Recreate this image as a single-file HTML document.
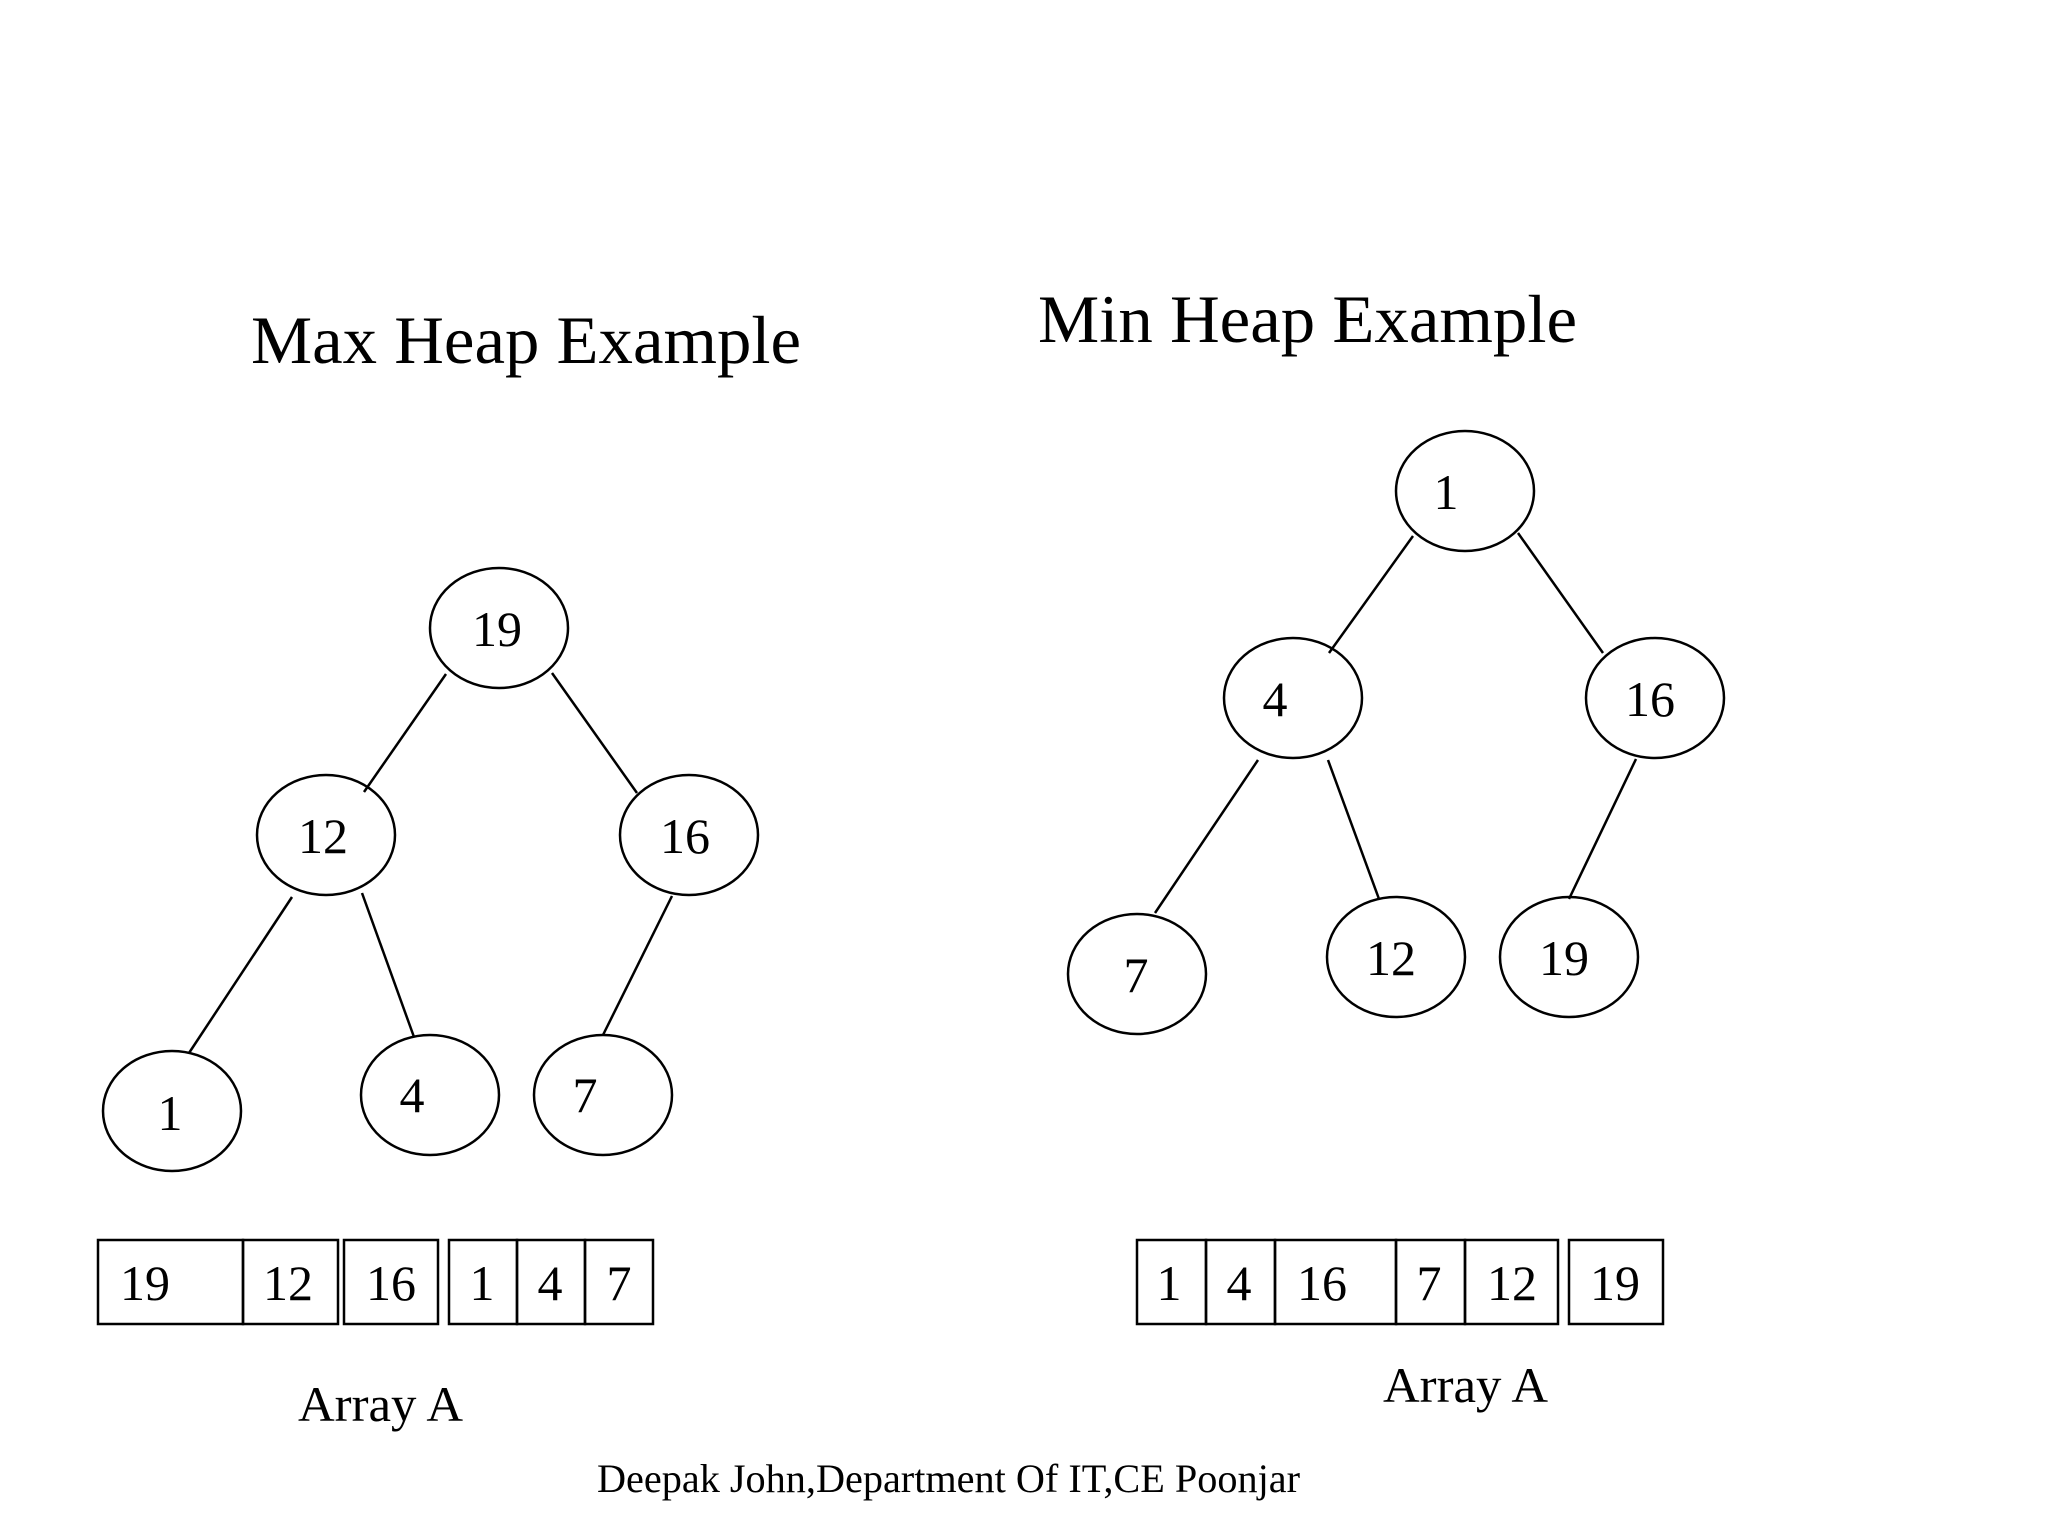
<!DOCTYPE html>
<html><head><meta charset="utf-8"><style>html,body{margin:0;padding:0;background:#fff}svg{display:block}</style></head>
<body>
<svg width="2048" height="1536" viewBox="0 0 2048 1536" xmlns="http://www.w3.org/2000/svg" font-family="Liberation Serif, serif" fill="#000">
<rect width="2048" height="1536" fill="#fff"/>
<text x="251" y="363" font-size="68" textLength="550" lengthAdjust="spacingAndGlyphs">Max Heap Example</text>
<text x="1038" y="342" font-size="68" textLength="539" lengthAdjust="spacingAndGlyphs">Min Heap Example</text>
<g stroke="#000" stroke-width="2.5" fill="none">
<line x1="446" y1="674" x2="364" y2="792"/>
<line x1="552" y1="673" x2="637" y2="793"/>
<line x1="292" y1="897" x2="189" y2="1053"/>
<line x1="362" y1="893" x2="414" y2="1037"/>
<line x1="672" y1="896" x2="603" y2="1035"/>
<ellipse cx="499" cy="628" rx="69" ry="60"/>
<ellipse cx="326" cy="835" rx="69" ry="60"/>
<ellipse cx="689" cy="835" rx="69" ry="60"/>
<ellipse cx="172" cy="1111" rx="69" ry="60"/>
<ellipse cx="430" cy="1095" rx="69" ry="60"/>
<ellipse cx="603" cy="1095" rx="69" ry="60"/>
<line x1="1413" y1="536" x2="1329" y2="653"/>
<line x1="1518" y1="533" x2="1603" y2="653"/>
<line x1="1258" y1="760" x2="1155" y2="913"/>
<line x1="1328" y1="760" x2="1379" y2="899"/>
<line x1="1636" y1="759" x2="1569" y2="899"/>
<ellipse cx="1465" cy="491" rx="69" ry="60"/>
<ellipse cx="1293" cy="698" rx="69" ry="60"/>
<ellipse cx="1655" cy="698" rx="69" ry="60"/>
<ellipse cx="1137" cy="974" rx="69" ry="60"/>
<ellipse cx="1396" cy="957" rx="69" ry="60"/>
<ellipse cx="1569" cy="957" rx="69" ry="60"/>
<rect x="98" y="1240" width="145" height="84"/>
<rect x="243" y="1240" width="95" height="84"/>
<rect x="344" y="1240" width="94" height="84"/>
<rect x="449" y="1240" width="68" height="84"/>
<rect x="517" y="1240" width="68" height="84"/>
<rect x="585" y="1240" width="68" height="84"/>
<rect x="1137" y="1240" width="69" height="84"/>
<rect x="1206" y="1240" width="69" height="84"/>
<rect x="1275" y="1240" width="121" height="84"/>
<rect x="1396" y="1240" width="69" height="84"/>
<rect x="1465" y="1240" width="93" height="84"/>
<rect x="1569" y="1240" width="94" height="84"/>
</g>
<g font-size="50" text-anchor="middle">
<text x="497" y="646">19</text>
<text x="323" y="853">12</text>
<text x="685" y="853">16</text>
<text x="170" y="1130">1</text>
<text x="412" y="1112">4</text>
<text x="585" y="1112">7</text>
<text x="1446" y="509">1</text>
<text x="1275" y="716">4</text>
<text x="1650" y="716">16</text>
<text x="1136" y="992">7</text>
<text x="1391" y="975">12</text>
<text x="1564" y="975">19</text>
<text x="145" y="1300">19</text>
<text x="288" y="1300">12</text>
<text x="391" y="1300">16</text>
<text x="482" y="1300">1</text>
<text x="550" y="1300">4</text>
<text x="619" y="1300">7</text>
<text x="1169" y="1300">1</text>
<text x="1239" y="1300">4</text>
<text x="1322" y="1300">16</text>
<text x="1429" y="1300">7</text>
<text x="1512" y="1300">12</text>
<text x="1615" y="1300">19</text>
</g>
<text x="298" y="1421" font-size="50" textLength="165" lengthAdjust="spacingAndGlyphs">Array A</text>
<text x="1383" y="1402" font-size="50" textLength="165" lengthAdjust="spacingAndGlyphs">Array A</text>
<text x="597" y="1492" font-size="40" textLength="703" lengthAdjust="spacingAndGlyphs">Deepak John,Department Of IT,CE Poonjar</text>
</svg>
</body></html>
